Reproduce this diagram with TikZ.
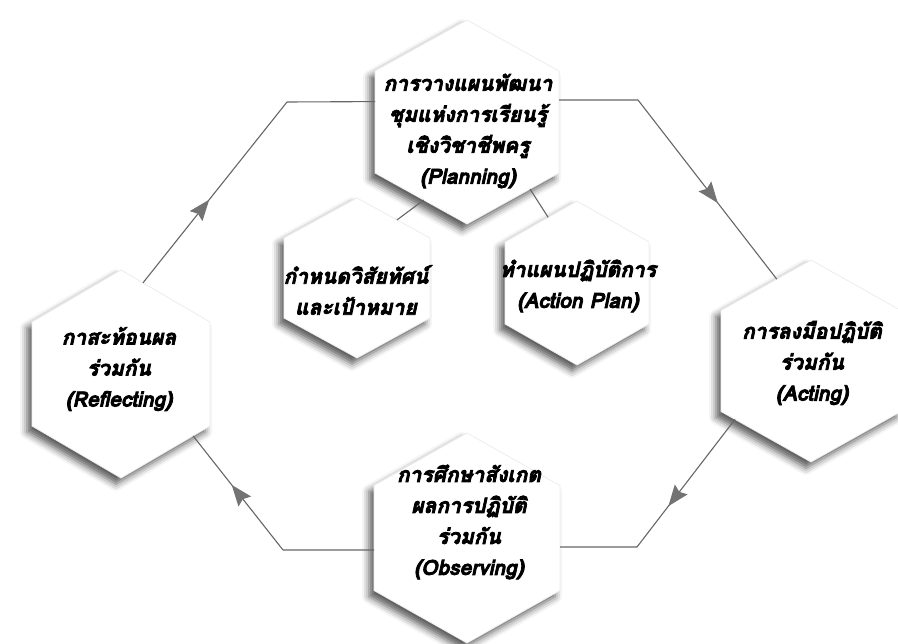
\documentclass[tikz,border=0pt]{standalone}
\usepackage{fontspec}
\newfontfamily\thaifont[Script=Thai, BoldItalicFeatures={FakeBold=3.6}]{Loma}
\usetikzlibrary{calc,arrows.meta,decorations.markings,shadows.blur}

% hexagon body: white with a soft shadow to the lower left
\tikzset{
  hexbody/.style={fill=white, draw=black!7, line width=0.8pt,
    blur shadow={shadow xshift=-5pt, shadow yshift=-6pt,
      shadow blur radius=7pt, shadow opacity=65}},
  link/.style={draw=black!60, line width=1.1pt},
  flowtip/.style={decoration={markings, mark=at position #1 with
    {\arrow{Stealth[length=21pt,width=16pt,inset=3pt,color=black!55,fill=black!55]}}},
    postaction={decorate}},
  label/.style={align=center, text=black, inner sep=0pt,
    font=\thaifont\bfseries\itshape\fontsize{21}{31}\selectfont}
}

% pointy-top hexagon: name, centre x, centre y, half width, half height
\newcommand\hexa[5]{%
  \coordinate (#1-t)  at (#2, #3-#5);
  \coordinate (#1-ur) at (#2+#4, #3-#5/2);
  \coordinate (#1-lr) at (#2+#4, #3+#5/2);
  \coordinate (#1-b)  at (#2, #3+#5);
  \coordinate (#1-ll) at (#2-#4, #3+#5/2);
  \coordinate (#1-ul) at (#2-#4, #3-#5/2);
  \path[hexbody] (#1-t) -- (#1-ur) -- (#1-lr) -- (#1-b) -- (#1-ll) -- (#1-ul) -- cycle;
}

\begin{document}
\begin{tikzpicture}[x=1pt, y=-1pt]
\useasboundingbox (0,0) rectangle (898,644);

% the six stages
\hexa{P}{467}{122}{92}{102}
\hexa{V}{357}{278}{73}{80}
\hexa{L}{577}{283}{72}{82}
\hexa{R}{121}{374}{89}{104}
\hexa{A}{811}{361}{90}{101}
\hexa{O}{467}{538}{93}{105}

% points where the connectors meet the hexagons
\coordinate (pa-s) at ($(P-ur)!0.284!(P-lr)$);
\coordinate (pa-k) at (638,100);
\coordinate (pa-e) at ($(A-ul)!0.62!(A-t)$);
\coordinate (ao-s) at ($(A-ll)!0.156!(A-b)$);
\coordinate (ao-k) at (637,547);
\coordinate (ao-e) at ($(O-ur)!0.586!(O-lr)$);
\coordinate (or-s) at ($(O-ul)!0.614!(O-ll)$);
\coordinate (or-k) at (283,550);
\coordinate (or-e) at ($(R-lr)!0.19!(R-b)$);
\coordinate (rp-s) at ($(R-t)!0.247!(R-ur)$);
\coordinate (rp-k) at (287,102);
\coordinate (rp-e) at ($(P-ul)!0.30!(P-ll)$);
\coordinate (pv-s) at ($(P-ll)!0.53!(P-b)$);
\coordinate (pv-e) at ($(V-t)!0.548!(V-ur)$);
\coordinate (pl-s) at ($(P-b)!0.685!(P-lr)$);
\coordinate (pl-e) at ($(L-t)!0.40!(L-ul)$);

% cycle of connectors
\draw[link] (pa-s) -- (pa-k);
\draw[link, flowtip=0.575] (pa-k) -- (pa-e);
\draw[link, flowtip=0.68] (ao-s) -- (ao-k);
\draw[link] (ao-k) -- (ao-e);
\draw[link] (or-s) -- (or-k);
\draw[link, flowtip=0.57] (or-k) -- (or-e);
\draw[link, flowtip=0.46] (rp-s) -- (rp-k);
\draw[link] (rp-k) -- (rp-e);

% planning branches
\draw[link] (pv-s) -- (pv-e);
\draw[link] (pl-s) -- (pl-e);

% labels
\node[label] (tP) at (468,131) {การวางแผนพัฒนา\\ชุมแห่งการเรียนรู้\\เชิงวิชาชีพครู\\(Planning)};
\node[label] (tV) at (356,290) {กำหนดวิสัยทัศน์\\และเป้าหมาย};
\node[label] (tL) at (578,286) {ทำแผนปฏิบัติการ\\(Action Plan)};
\node[label] (tR) at (119,369) {กาสะท้อนผล\\ร่วมกัน\\(Reflecting)};
\node[label] (tA) at (812,363) {การลงมือปฏิบัติ\\ร่วมกัน\\(Acting)};
\node[label] (tO) at (469,522) {การศึกษาสังเกต\\ผลการปฏิบัติ\\ร่วมกัน\\(Observing)};
\end{tikzpicture}
\end{document}
